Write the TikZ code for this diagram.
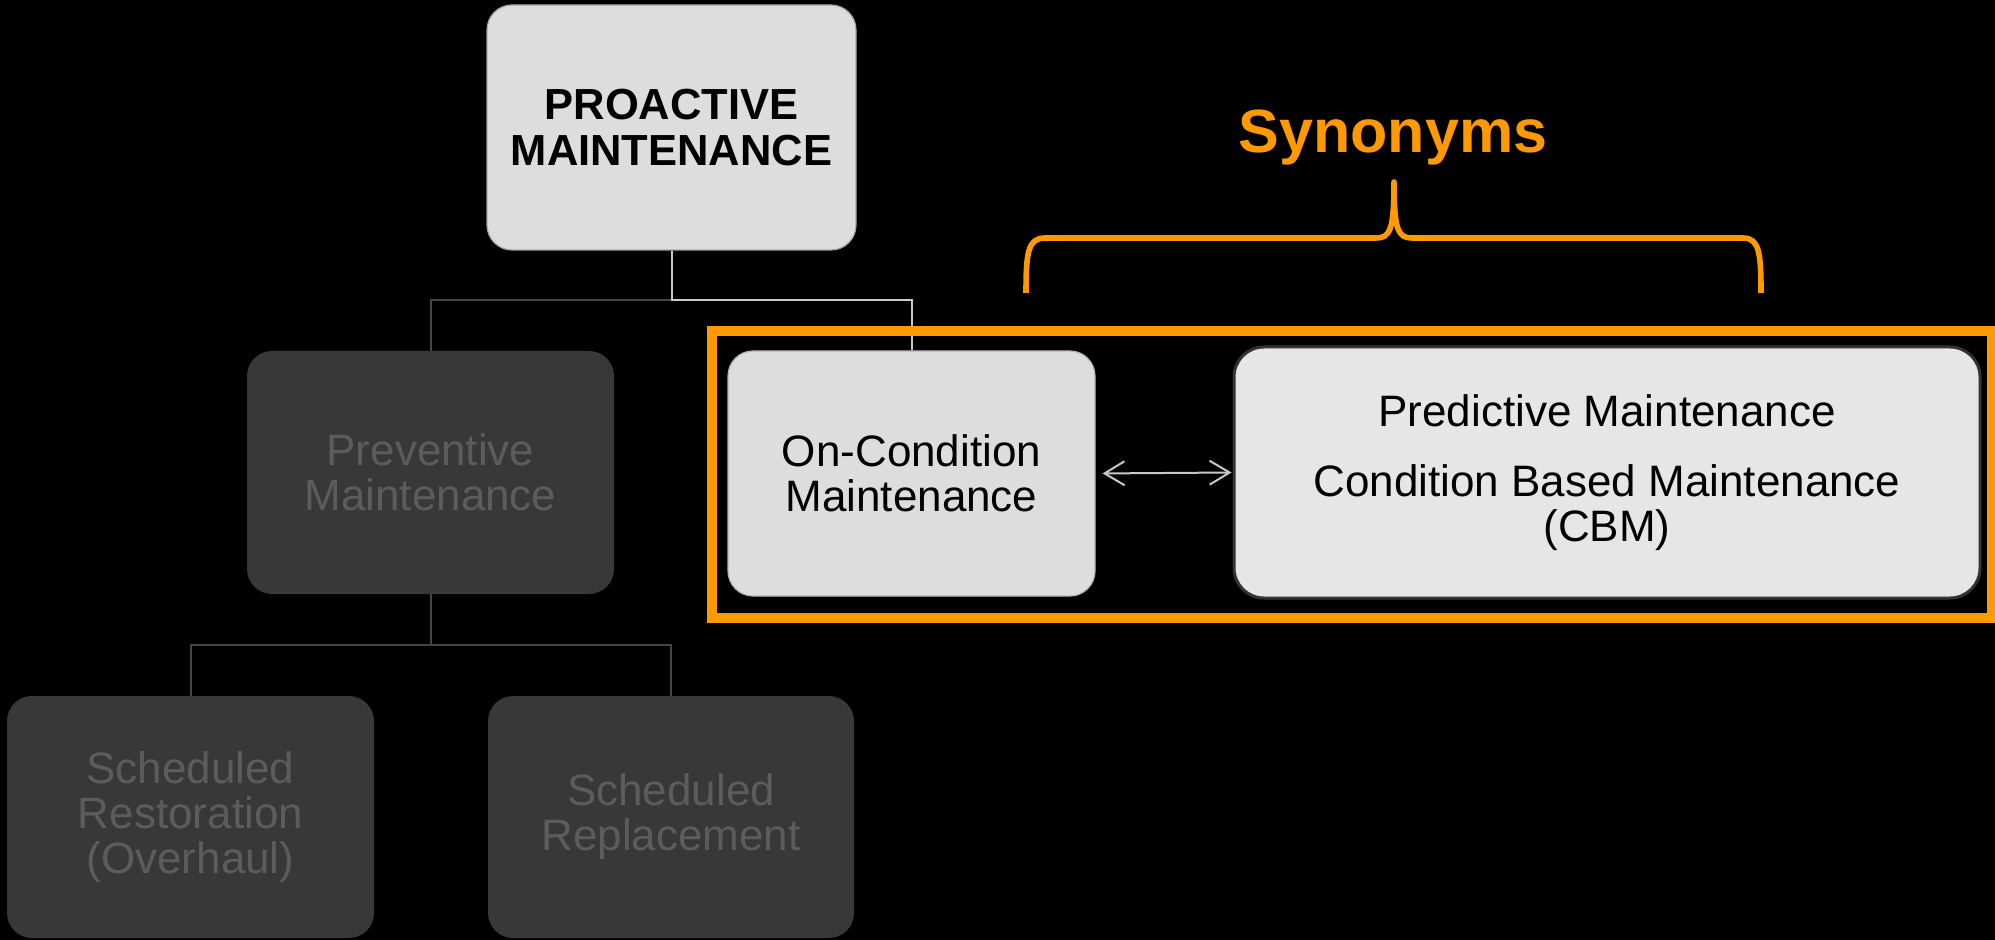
\documentclass[tikz,border=0pt]{standalone}
\usepackage{fontspec}
\setmainfont{Liberation Sans}
\usetikzlibrary{arrows.meta}
\definecolor{orng}{HTML}{FF9900}
\definecolor{litebox}{HTML}{DDDDDD}
\definecolor{palebox}{HTML}{E6E6E6}
\definecolor{dimbox}{HTML}{383838}
\definecolor{dimtext}{HTML}{5C5C5C}
\definecolor{darkline}{HTML}{444444}
\definecolor{liteline}{HTML}{C8C8C8}
\begin{document}
\begin{tikzpicture}[x=0.5pt,y=-0.5pt,
  base/.style={rounded corners=12.5pt, inner sep=0pt, align=center,
    font=\fontsize{22pt}{22.5pt}\selectfont},
  topbox/.style={base, fill=litebox, draw=gray!70, line width=0.6pt,
    minimum width=184.5pt, minimum height=122.5pt,
    font=\fontsize{21.75pt}{23pt}\selectfont\bfseries},
  dimnode/.style={base, fill=dimbox, text=dimtext,
    minimum width=183.5pt, minimum height=121.5pt},
  onbox/.style={base, fill=litebox, draw=gray!60, line width=0.6pt,
    minimum width=183.5pt, minimum height=122.5pt},
  cbmbox/.style={base, fill=palebox, draw=black!80, line width=1.5pt,
    rounded corners=15pt, minimum width=373pt, minimum height=125.5pt},
  darkconn/.style={draw=darkline, line width=1pt},
  liteconn/.style={draw=liteline, line width=1pt},
  orngframe/.style={draw=orng, line width=5pt},
  bracepath/.style={draw=orng, line width=2.8pt, line join=round, line cap=butt},
  twoway/.style={draw=liteline, line width=1pt,
    {Straight Barb[length=10pt,width=12pt]}-{Straight Barb[length=10pt,width=12pt]}}
]
% canvas
\fill[black] (0,0) rectangle (1995,940);
\useasboundingbox (0,0) rectangle (1995,940);

% boxes
\node[topbox] (pro) at (671.5,127.5) {PROACTIVE\\MAINTENANCE};
\node[dimnode] (prev) at (430.5,472.5) {Preventive\\Maintenance};
\node[onbox] (oncond) at (911.5,473.5) {On-Condition\\Maintenance};
\node[cbmbox] (cbm) at (1607,472.5)
  {Predictive Maintenance\\[12.5pt]Condition Based Maintenance\\(CBM)};
\node[dimnode, minimum width=183.5pt, minimum height=121pt] (rest) at (190.5,817)
  {Scheduled\\Restoration\\(Overhaul)};
\node[dimnode, minimum width=183pt, minimum height=121pt] (repl) at (671,817)
  {Scheduled\\Replacement};

% tree connectors
\coordinate (split) at (671.5,300);
\draw[darkconn] (split) -| (prev.north);
\draw[liteconn] (pro.south) -- (split) -| (oncond.north);
\coordinate (split2) at (430.5,645);
\draw[darkconn] (prev.south) -- (split2) -| (rest.north);
\draw[darkconn] (split2) -| (repl.north);

% synonym link
\draw[twoway, shorten <=3.5pt, shorten >=0.5pt] (oncond.east) -- (cbm.west);

% highlight frame
\draw[orngframe] (712,331) rectangle (1992,618);

% brace and heading
\draw[bracepath] (1026,293) .. controls (1026,252) and (1028,238) .. (1045,238)
  -- (1376,238) .. controls (1390,238) and (1394,230) .. (1394,182)
  .. controls (1394,230) and (1398,238) .. (1412,238)
  -- (1743,238) .. controls (1759,238) and (1761,252) .. (1761,293);
\node[anchor=base, text=orng, inner sep=0pt,
  font=\fontsize{30.5pt}{32pt}\selectfont\bfseries] (syn) at (1393,153) {Synonyms};
\end{tikzpicture}
\end{document}
